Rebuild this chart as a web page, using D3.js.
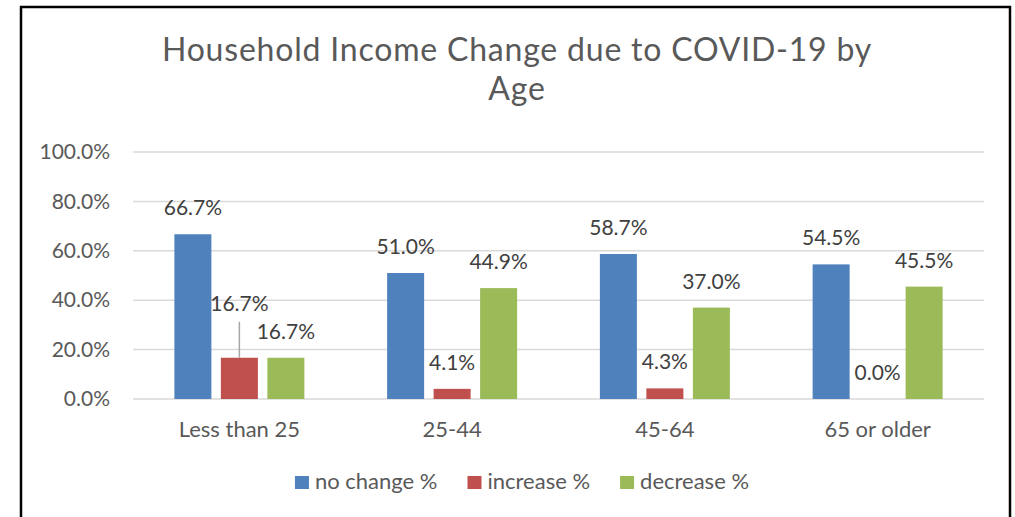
<!DOCTYPE html>
<html>
<head>
<meta charset="utf-8">
<script src="https://cdn.jsdelivr.net/npm/d3@7"></script>
<style>
  body { margin: 0; background: #fff; }
  text { font-family: Lato, "Open Sans", sans-serif; }
</style>
</head>
<body>
<div class="canvas"></div>
<script>
// data
const categories = ["Less than 25", "25-44", "45-64", "65 or older"];
const seriesNames = ["no change %", "increase %", "decrease %"];
const noChange = [66.7, 51.0, 58.7, 54.5];
const increase = [16.7, 4.1, 4.3, 0.0];
const decrease = [16.7, 44.9, 37.0, 45.5];
const yTicks = [0, 20, 40, 60, 80, 100];
const colors = ["#4f81bd", "#c0504d", "#9bbb59"];

const dims = { width: 1015, height: 517 };
const plot = { left: 133, right: 984, top: 152, bottom: 399 };

const svg = d3
    .select(".canvas")
    .append("svg")
    .attr("width", dims.width)
    .attr("height", dims.height);

svg.append("rect")
    .attr("width", dims.width)
    .attr("height", dims.height)
    .attr("fill", "#fff");

// chart border (runs off the bottom of the picture)
svg.append("rect")
    .attr("x", 21)
    .attr("y", 7)
    .attr("width", 989)
    .attr("height", 560)
    .attr("fill", "none")
    .attr("stroke", "#000")
    .attr("stroke-width", 2.5);

// title, two lines
const titleLines = ["Household Income Change due to COVID-19 by", "Age"];
svg.append("g")
    .selectAll("text")
    .data(titleLines)
    .enter()
    .append("text")
    .attr("x", 517)
    .attr("y", (d, i) => 61 + i * 39)
    .attr("text-anchor", "middle")
    .attr("fill", "#595959")
    .attr("font-size", 32)
    .attr("letter-spacing", 0.8)
    .text((d) => d);

// scales
const x0 = d3.scaleBand()
    .domain(categories)
    .range([plot.left, plot.right])
    .paddingInner(0.389)
    .paddingOuter(0.1945);

const x1 = d3.scaleBand()
    .domain(seriesNames)
    .range([0, x0.bandwidth()])
    .paddingInner(0.204);

const y = d3.scaleLinear()
    .domain([0, 100])
    .range([plot.bottom, plot.top]);

// gridlines
svg.append("g")
    .selectAll("line")
    .data(yTicks)
    .enter()
    .append("line")
    .attr("x1", plot.left)
    .attr("x2", plot.right)
    .attr("y1", (d) => y(d))
    .attr("y2", (d) => y(d))
    .attr("stroke", "#d9d9d9")
    .attr("stroke-width", 1.5);

// y axis labels
const yAxis = svg.append("g")
    .attr("transform", "translate(110,0)")
    .call(d3.axisLeft(y).tickValues(yTicks).tickSize(0).tickPadding(0)
        .tickFormat((d) => d.toFixed(1) + "%"));
yAxis.select(".domain").remove();
yAxis.selectAll("text")
    .attr("font-size", 21)
    .attr("fill", "#595959")
    .attr("font-family", "Lato, 'Open Sans', sans-serif");

// x axis labels
const xAxis = svg.append("g")
    .attr("transform", `translate(0,${plot.bottom})`)
    .call(d3.axisBottom(x0).tickSize(0).tickPadding(22));
xAxis.select(".domain").remove();
xAxis.selectAll("text")
    .attr("font-size", 22)
    .attr("fill", "#595959")
    .attr("font-family", "Lato, 'Open Sans', sans-serif");

// bars
const rows = categories.map((c, i) => ({
    cat: c,
    vals: [noChange[i], increase[i], decrease[i]]
}));

const groups = svg.append("g")
    .selectAll("g")
    .data(rows)
    .enter()
    .append("g")
    .attr("transform", (d) => `translate(${x0(d.cat)},0)`);

groups.selectAll("rect")
    .data((d) => d.vals.map((v, j) => ({ cat: d.cat, name: seriesNames[j], v, j })))
    .enter()
    .append("rect")
    .attr("x", (d) => x1(d.name))
    .attr("y", (d) => y(d.v))
    .attr("width", x1.bandwidth())
    .attr("height", (d) => y(0) - y(d.v))
    .attr("fill", (d) => colors[d.j]);

// value labels; the first red label was dragged up in the original, with a leader line
const labelGap = 19;
const movedLabel = { cat: "Less than 25", name: "increase %", lift: 28 };

groups.each(function (row) {
    const g = d3.select(this);
    row.vals.forEach((v, j) => {
        const name = seriesNames[j];
        const cx = x1(name) + x1.bandwidth() / 2;
        let ly = y(v) - labelGap;
        if (row.cat === movedLabel.cat && name === movedLabel.name) {
            ly -= movedLabel.lift;
            g.append("line")
                .attr("x1", cx)
                .attr("x2", cx)
                .attr("y1", ly + 11)
                .attr("y2", y(v))
                .attr("stroke", "#a6a6a6")
                .attr("stroke-width", 1.5);
        }
        g.append("text")
            .attr("x", cx)
            .attr("y", ly)
            .attr("text-anchor", "middle")
            .attr("font-size", 21)
            .attr("fill", "#404040")
            .text(v.toFixed(1) + "%");
    });
});

// legend
const legendGroup = svg.append("g");
const items = legendGroup.selectAll("g")
    .data(seriesNames)
    .enter()
    .append("g");
items.append("rect")
    .attr("y", 476)
    .attr("width", 14)
    .attr("height", 13)
    .attr("fill", (d, i) => colors[i]);
items.append("text")
    .attr("x", 20)
    .attr("y", 489)
    .attr("font-size", 22)
    .attr("fill", "#595959")
    .text((d) => d);

let offset = 0;
items.each(function () {
    const w = d3.select(this).select("text").node().getComputedTextLength();
    d3.select(this).attr("transform", `translate(${offset},0)`);
    offset += 20 + w + 30;
});
const legendWidth = offset - 30;
legendGroup.attr("transform", `translate(${522 - legendWidth / 2},0)`);
</script>
</body>
</html>
